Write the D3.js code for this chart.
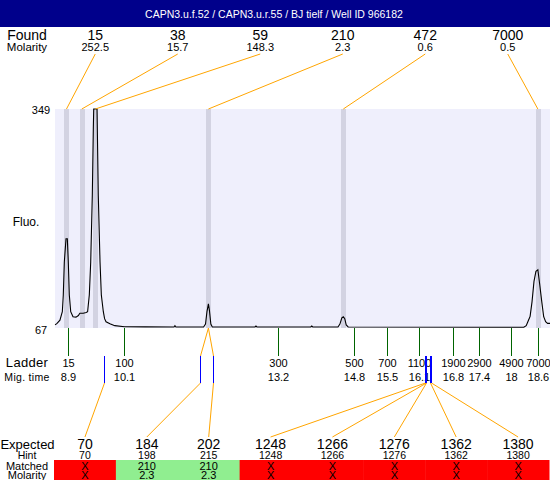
<!DOCTYPE html>
<html><head><meta charset="utf-8">
<script src="https://cdn.jsdelivr.net/npm/d3@7"></script>
<style>
body{margin:0;background:#fff;}
svg text{font-family:"Liberation Sans",Arial,sans-serif;fill:#000;}
</style></head>
<body><svg id="c" width="550" height="480"></svg>
<script>
// ---------- data ----------
const title = "CAPN3.u.f.52 / CAPN3.u.r.55 / BJ tielf / Well ID 966182";
const fluoMin = 67, fluoMax = 349;

const foundSizes = [15, 38, 59, 210, 472, 7000];
const foundMolarity = ["252.5", "15.7", "148.3", "2.3", "0.6", "0.5"];
const foundTimes = [8.875, 9.19, 9.47, 11.80, 14.58, 18.59];

const ladderSizes = [15, 100, 300, 500, 700, 1100, 1900, 2900, 4900, 7000];
const ladderTimes = [8.90, 10.06, 13.24, 14.81, 15.49, 16.14, 16.84, 17.38, 18.04, 18.60];

const expectedSizes = [70, 184, 202, 1248, 1266, 1276, 1362, 1380];
const expectedHints = [70, 198, 215, 1248, 1266, 1276, 1362, 1380];
const matchedSizes = [null, 210, 210, null, null, null, null, null];
const matchedMolarity = [null, "2.3", "2.3", null, null, null, null, null];

const traceTimes = [8.64, 8.68, 8.74, 8.789, 8.809, 8.83, 8.865, 8.892, 8.912, 8.933, 8.962, 9.009, 9.07, 9.12, 9.15, 9.22, 9.28, 9.31, 9.345, 9.374, 9.407, 9.428, 9.436, 9.504, 9.51, 9.53, 9.566, 9.593, 9.634, 9.66, 9.69, 9.77, 9.87, 10.07, 10.5, 11.09, 11.11, 11.13, 11.70, 11.74, 11.77, 11.80, 11.82, 11.85, 11.88, 12.76, 12.78, 12.80, 13.91, 13.93, 13.95, 14.47, 14.51, 14.55, 14.58, 14.61, 14.64, 14.68, 18.30, 18.35, 18.39, 18.43, 18.47, 18.51, 18.55, 18.59, 18.63, 18.67, 18.71, 18.75, 18.79, 18.84];
const traceFluo  = [71, 73, 77, 88, 109.5, 152, 182, 182, 152, 109.5, 88, 81.5, 81, 83, 86, 86, 87, 88, 109.5, 152, 238, 324.5, 349, 349, 324.5, 238, 152, 109.5, 88, 79, 75, 72.5, 70, 68.7, 68.4, 68.3, 70, 68.3, 68.3, 72, 88, 98, 90, 72, 68.3, 68.3, 69.5, 68.3, 68.3, 69.5, 68.3, 68.3, 72, 80, 81.5, 79, 71, 68.3, 68, 70, 76, 82, 101, 127, 140, 142, 122, 101, 81.5, 75, 73, 73];

// ---------- layout ----------
const W = 550, H = 480;
const plot = {l: 55, r: 550, t: 109, b: 328};
const orange = "#ffa500", blue = "#0000ff", green = "#006400";

const svg = d3.select("#c");
const x = d3.scaleLinear().domain([8.638, 18.84]).range([plot.l, plot.r]);
const y = d3.scaleLinear().domain([fluoMin, fluoMax]).range([plot.b, plot.t]);
const sizeToTime = d3.scaleLinear().domain(ladderSizes).range(ladderTimes);
const foundBand = d3.scaleBand().domain(d3.range(foundSizes.length)).range([54, 549]);
const expBand = d3.scaleBand().domain(d3.range(expectedSizes.length)).range([54, 549]);
const fcx = i => foundBand(i) + foundBand.bandwidth() / 2;
const ecx = i => expBand(i) + expBand.bandwidth() / 2;

// header
svg.append("rect").attr("x", 0).attr("y", 0).attr("width", W).attr("height", 27).attr("fill", "#00008b");
svg.append("text").attr("x", 274).attr("y", 17.5).attr("text-anchor", "middle")
  .style("fill", "#fff").style("font-size", "10.5px").text(title);

// left labels
function lab(txt, xx, yy, size) {
  return svg.append("text").attr("x", xx).attr("y", yy).attr("text-anchor", "middle")
    .style("font-size", size + "px").text(txt);
}
lab("Found", 27, 39.5, 14);
lab("Molarity", 27, 50.5, 11.5);
lab(String(fluoMax), 41, 114, 11);
lab(String(fluoMin), 41, 334, 11);
lab("Fluo.", 26, 225.5, 12);
lab("Ladder", 27, 367, 13).style("letter-spacing", "0.3px");
lab("Mig. time", 27, 381, 10.5).style("letter-spacing", "0.3px");
lab("Expected", 27.5, 449, 13);
lab("Hint", 27, 458.5, 10.5);
lab("Matched", 27, 469.5, 11);
lab("Molarity", 27, 478.5, 11);

// plot background
svg.append("rect").attr("x", plot.l).attr("y", plot.t).attr("width", plot.r - plot.l)
  .attr("height", plot.b - plot.t).attr("fill", "#efeffc");

// found peak bands
svg.append("g").selectAll("rect").data(foundTimes).join("rect")
  .attr("x", d => Math.round(x(d)) - 2).attr("y", plot.t).attr("width", 5)
  .attr("height", plot.b - plot.t).attr("fill", "#d3d3e2");

// trace
const line = d3.line().x((d, i) => x(traceTimes[i])).y(d => y(d));
svg.append("path").datum(traceFluo).attr("d", line).attr("fill", "none")
  .attr("stroke", "#000").attr("stroke-width", 1.1);

// found labels and lines
const fg = svg.append("g");
foundSizes.forEach((s, i) => {
  fg.append("text").attr("x", fcx(i)).attr("y", 39.5).attr("text-anchor", "middle")
    .style("font-size", "14px").text(s);
  fg.append("text").attr("x", fcx(i)).attr("y", 50.5).attr("text-anchor", "middle")
    .style("font-size", "11px").text(foundMolarity[i]);
  fg.append("line").attr("x1", fcx(i)).attr("y1", 54).attr("x2", x(foundTimes[i])).attr("y2", plot.t)
    .attr("stroke", orange).attr("stroke-width", 1);
});

// ladder ticks and labels
const fmt = d3.format(".1~f");
const lg = svg.append("g");
ladderSizes.forEach((s, i) => {
  const lx = Math.round(x(ladderTimes[i])) + 0.5;
  lg.append("line").attr("x1", lx).attr("x2", lx).attr("y1", plot.b).attr("y2", 356)
    .attr("stroke", green).attr("stroke-width", 1);
  lg.append("text").attr("x", lx).attr("y", 367).attr("text-anchor", "middle")
    .style("font-size", "11px").text(s);
  lg.append("text").attr("x", lx).attr("y", 381).attr("text-anchor", "middle")
    .style("font-size", "11px").text(fmt(ladderTimes[i]));
});

// expected markers, match lines, expected lines
const eg = svg.append("g");
expectedSizes.forEach((s, i) => {
  const mx = Math.round(x(sizeToTime(expectedHints[i]))) + 0.5;
  if (matchedSizes[i] != null) {
    const fi = foundSizes.indexOf(matchedSizes[i]);
    eg.append("line").attr("x1", x(foundTimes[fi])).attr("y1", plot.b).attr("x2", mx).attr("y2", 356)
      .attr("stroke", orange).attr("stroke-width", 1);
  }
  eg.append("line").attr("x1", mx).attr("y1", 383).attr("x2", ecx(i)).attr("y2", 437)
    .attr("stroke", orange).attr("stroke-width", 1);
  eg.append("line").attr("x1", mx).attr("x2", mx).attr("y1", 356).attr("y2", 383)
    .attr("stroke", blue).attr("stroke-width", 1);
});

// expected table
const tg = svg.append("g");
expectedSizes.forEach((s, i) => {
  const ok = matchedSizes[i] != null;
  tg.append("rect").attr("x", expBand(i)).attr("y", 460).attr("width", expBand.bandwidth() + 0.5)
    .attr("height", 20).attr("fill", ok ? "#90ee90" : "#ff0000");
  tg.append("text").attr("x", ecx(i)).attr("y", 448.5).attr("text-anchor", "middle")
    .style("font-size", "14px").text(s);
  tg.append("text").attr("x", ecx(i)).attr("y", 458.5).attr("text-anchor", "middle")
    .style("font-size", "10.5px").text(expectedHints[i]);
  tg.append("text").attr("x", ecx(i)).attr("y", 469.5).attr("text-anchor", "middle")
    .style("font-size", "11px").text(ok ? matchedSizes[i] : "X");
  tg.append("text").attr("x", ecx(i)).attr("y", 478.5).attr("text-anchor", "middle")
    .style("font-size", "11px").text(ok ? matchedMolarity[i] : "X");
});
</script></body></html>
